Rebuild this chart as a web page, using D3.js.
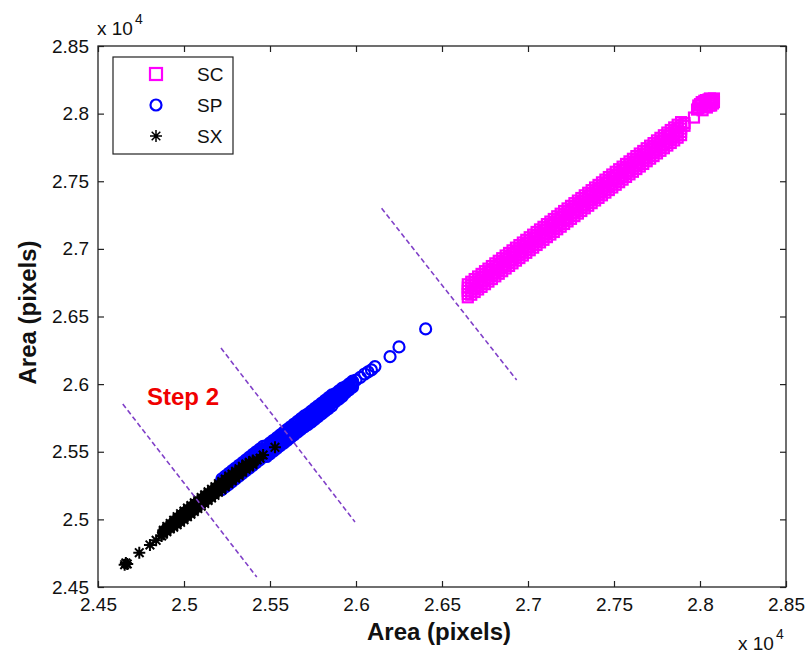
<!DOCTYPE html>
<html><head><meta charset="utf-8">
<script src="https://cdn.jsdelivr.net/npm/d3@7"></script>
<style>
html,body{margin:0;padding:0;background:#fff;}
text{font-family:"Liberation Sans",Arial,sans-serif;}
</style></head>
<body>
<svg id="chart" width="810" height="654"></svg>
<script>
// ---- Data (values in units of 10^4 pixels) ----
const tickValues = [2.45, 2.5, 2.55, 2.6, 2.65, 2.7, 2.75, 2.8, 2.85];
const tickLabels = ["2.45", "2.5", "2.55", "2.6", "2.65", "2.7", "2.75", "2.8", "2.85"];
const seriesNames = ["SC", "SP", "SX"];

// SC: readings across the band [x, y readings...]
const scBand = [
[2.665,2.6642,2.6666,2.6690,2.6714,2.6738],[2.667,2.6661,2.6685,2.6709,2.6733,2.6757],
[2.669,2.6681,2.6705,2.6729,2.6753,2.6777],[2.671,2.6700,2.6724,2.6748,2.6772,2.6796],
[2.673,2.6719,2.6743,2.6767,2.6791,2.6815],[2.675,2.6739,2.6763,2.6787,2.6811,2.6835],
[2.677,2.6758,2.6782,2.6806,2.6830,2.6854],[2.679,2.6777,2.6801,2.6825,2.6849,2.6873],
[2.681,2.6797,2.6821,2.6845,2.6869,2.6893],[2.683,2.6816,2.6840,2.6864,2.6888,2.6912],
[2.685,2.6835,2.6859,2.6883,2.6907,2.6931],[2.687,2.6855,2.6879,2.6903,2.6927,2.6951],
[2.689,2.6874,2.6898,2.6922,2.6946,2.6970],[2.691,2.6893,2.6917,2.6941,2.6965,2.6989],
[2.693,2.6913,2.6937,2.6961,2.6985,2.7009],[2.695,2.6932,2.6956,2.6980,2.7004,2.7028],
[2.697,2.6951,2.6975,2.6999,2.7023,2.7047],[2.699,2.6971,2.6995,2.7019,2.7043,2.7067],
[2.701,2.6990,2.7014,2.7038,2.7062,2.7086],[2.703,2.7009,2.7033,2.7057,2.7081,2.7105],
[2.705,2.7029,2.7053,2.7077,2.7101,2.7125],[2.707,2.7048,2.7072,2.7096,2.7120,2.7144],
[2.709,2.7067,2.7091,2.7115,2.7139,2.7163],[2.711,2.7087,2.7111,2.7135,2.7159,2.7183],
[2.713,2.7106,2.7130,2.7154,2.7178,2.7202],[2.715,2.7125,2.7149,2.7173,2.7197,2.7221],
[2.717,2.7145,2.7169,2.7193,2.7217,2.7241],[2.719,2.7164,2.7188,2.7212,2.7236,2.7260],
[2.721,2.7184,2.7208,2.7232,2.7256,2.7280],[2.723,2.7203,2.7227,2.7251,2.7275,2.7299],
[2.725,2.7222,2.7246,2.7270,2.7294,2.7318],[2.727,2.7242,2.7266,2.7290,2.7314,2.7338],
[2.729,2.7261,2.7285,2.7309,2.7333,2.7357],[2.731,2.7280,2.7304,2.7328,2.7352,2.7376],
[2.733,2.7300,2.7324,2.7348,2.7372,2.7396],[2.735,2.7319,2.7343,2.7367,2.7391,2.7415],
[2.737,2.7338,2.7362,2.7386,2.7410,2.7434],[2.739,2.7358,2.7382,2.7406,2.7430,2.7454],
[2.741,2.7377,2.7401,2.7425,2.7449,2.7473],[2.743,2.7396,2.7420,2.7444,2.7468,2.7492],
[2.745,2.7416,2.7440,2.7464,2.7488,2.7512],[2.747,2.7435,2.7459,2.7483,2.7507,2.7531],
[2.749,2.7454,2.7478,2.7502,2.7526,2.7550],[2.751,2.7474,2.7498,2.7522,2.7546,2.7570],
[2.753,2.7493,2.7517,2.7541,2.7565,2.7589],[2.755,2.7512,2.7536,2.7560,2.7584,2.7608],
[2.757,2.7532,2.7556,2.7580,2.7604,2.7628],[2.759,2.7551,2.7575,2.7599,2.7623,2.7647],
[2.761,2.7570,2.7594,2.7618,2.7642,2.7666],[2.763,2.7590,2.7614,2.7638,2.7662,2.7686],
[2.765,2.7609,2.7633,2.7657,2.7681,2.7705],[2.767,2.7628,2.7652,2.7676,2.7700,2.7724],
[2.769,2.7648,2.7672,2.7696,2.7720,2.7744],[2.771,2.7667,2.7691,2.7715,2.7739,2.7763],
[2.773,2.7686,2.7710,2.7734,2.7758,2.7782],[2.775,2.7706,2.7730,2.7754,2.7778,2.7802],
[2.777,2.7725,2.7749,2.7773,2.7797,2.7821],[2.779,2.7744,2.7768,2.7792,2.7816,2.7840],
[2.781,2.7764,2.7788,2.7812,2.7836,2.7860],[2.783,2.7783,2.7807,2.7831,2.7855,2.7879],
[2.785,2.7802,2.7826,2.7850,2.7874,2.7898],[2.787,2.7822,2.7846,2.7870,2.7894,2.7918],
[2.789,2.7841,2.7865,2.7889,2.7913,2.7937],[2.791,2.7910,2.7930]
];
const scSingles = [
[2.7965,2.7971],[2.7983,2.8030],[2.7990,2.8040],[2.7990,2.8060],[2.8000,2.8070],
[2.8010,2.8085],[2.8025,2.8095],[2.8035,2.8100],[2.8050,2.8105],[2.8058,2.8112],
[2.8070,2.8100],[2.8081,2.8112],[2.8081,2.8085],[2.8075,2.8075],[2.8065,2.8060],
[2.8055,2.8060],[2.8040,2.8045],[2.8030,2.8050],[2.8015,2.8025]
];

// SP
const spBand = [
[2.522,2.5220,2.5240,2.5260,2.5280,2.5300],[2.524,2.5240,2.5260,2.5280,2.5300,2.5320],
[2.526,2.5260,2.5280,2.5300,2.5320,2.5340],[2.528,2.5280,2.5300,2.5320,2.5340,2.5360],
[2.530,2.5300,2.5320,2.5340,2.5360,2.5380],[2.532,2.5320,2.5340,2.5360,2.5380,2.5400],
[2.534,2.5340,2.5360,2.5380,2.5400,2.5420],[2.536,2.5360,2.5380,2.5400,2.5420,2.5440],
[2.538,2.5380,2.5400,2.5420,2.5440,2.5460],[2.540,2.5400,2.5420,2.5440,2.5460,2.5480],
[2.542,2.5420,2.5440,2.5460,2.5480,2.5500],[2.544,2.5440,2.5460,2.5480,2.5500,2.5520],
[2.546,2.5460,2.5480,2.5500,2.5520,2.5540],[2.548,2.5465,2.5485,2.5505,2.5525,2.5545],
[2.550,2.5485,2.5505,2.5525,2.5545,2.5565],[2.552,2.5505,2.5525,2.5545,2.5565,2.5585],
[2.554,2.5525,2.5545,2.5565,2.5585,2.5605],[2.556,2.5545,2.5565,2.5585,2.5605,2.5625],
[2.558,2.5565,2.5585,2.5605,2.5625,2.5645],[2.560,2.5585,2.5605,2.5625,2.5645,2.5665],
[2.562,2.5605,2.5625,2.5645,2.5665,2.5685],[2.564,2.5625,2.5645,2.5665,2.5685,2.5705],
[2.566,2.5645,2.5665,2.5685,2.5705,2.5725],[2.568,2.5665,2.5685,2.5705,2.5725,2.5745],
[2.570,2.5685,2.5705,2.5725,2.5745,2.5765],[2.572,2.5700,2.5720,2.5740,2.5760,2.5780],
[2.574,2.5720,2.5740,2.5760,2.5780,2.5800],[2.576,2.5740,2.5760,2.5780,2.5800,2.5820],
[2.578,2.5760,2.5780,2.5800,2.5820,2.5840],[2.580,2.5780,2.5800,2.5820,2.5840,2.5860],
[2.582,2.5800,2.5820,2.5840,2.5860,2.5880],[2.584,2.5820,2.5840,2.5860,2.5880,2.5900],
[2.586,2.5840,2.5860,2.5880,2.5900,2.5920],[2.588,2.5870,2.5885,2.5900,2.5915,2.5930],
[2.590,2.5890,2.5905,2.5920,2.5935,2.5950],[2.592,2.5910,2.5925,2.5940,2.5955,2.5970],
[2.594,2.5938,2.5949,2.5960,2.5971,2.5982],[2.596,2.5958,2.5969,2.5980,2.5991,2.6002],
[2.598,2.5978,2.5989,2.6000,2.6011,2.6022]
];
const spSingles = [
[2.6000,2.6030],[2.6025,2.6050],[2.6050,2.6075],[2.6070,2.6090],[2.6090,2.6105],
[2.6110,2.6130],[2.6198,2.6203],[2.6250,2.6275],[2.6405,2.6408]
];

// SX
const sxBand = [
[2.488,2.4890,2.4898,2.4905,2.4912,2.4920],[2.490,2.4908,2.4918,2.4928,2.4938,2.4948],
[2.492,2.4930,2.4940,2.4950,2.4960,2.4970],[2.494,2.4942,2.4955,2.4968,2.4981,2.4994],
[2.496,2.4960,2.4975,2.4990,2.5005,2.5020],[2.498,2.4978,2.4994,2.5010,2.5026,2.5042],
[2.500,2.4998,2.5014,2.5030,2.5046,2.5062],[2.502,2.5020,2.5036,2.5052,2.5068,2.5084],
[2.504,2.5038,2.5054,2.5070,2.5086,2.5102],[2.506,2.5058,2.5074,2.5090,2.5106,2.5122],
[2.508,2.5080,2.5096,2.5112,2.5128,2.5144],[2.510,2.5098,2.5114,2.5130,2.5146,2.5162],
[2.512,2.5118,2.5134,2.5150,2.5166,2.5182],[2.514,2.5140,2.5156,2.5172,2.5188,2.5204],
[2.516,2.5158,2.5174,2.5190,2.5206,2.5222],[2.518,2.5178,2.5194,2.5210,2.5226,2.5242],
[2.520,2.5200,2.5216,2.5232,2.5248,2.5264],[2.522,2.5220,2.5235,2.5250,2.5265,2.5280],
[2.524,2.5242,2.5256,2.5270,2.5284,2.5298],[2.526,2.5264,2.5278,2.5292,2.5306,2.5320],
[2.528,2.5285,2.5298,2.5310,2.5322,2.5335],[2.530,2.5305,2.5318,2.5330,2.5342,2.5355],
[2.532,2.5325,2.5338,2.5350,2.5362,2.5375],[2.534,2.5348,2.5359,2.5370,2.5381,2.5392],
[2.536,2.5370,2.5380,2.5390,2.5400,2.5410],[2.538,2.5388,2.5396,2.5405,2.5414,2.5422],
[2.540,2.5405,2.5412,2.5420,2.5428,2.5435]
];
const sxSingles = [
[2.4655,2.4665],[2.4662,2.4678],[2.4670,2.4670],[2.4740,2.4754],[2.4802,2.4811],
[2.4838,2.4845],[2.4870,2.4877],[2.5425,2.5440],[2.5442,2.5452],[2.5460,2.5476],[2.5529,2.5533]
];

// Dashed divider lines [x1, y1, x2, y2]
const dividers = [
[2.4644, 2.5853, 2.5423, 2.4574],
[2.5215, 2.6267, 2.5994, 2.4981],
[2.6149, 2.7300, 2.6934, 2.6030]
];
const annotation = {text: "Step 2", x: 2.4785, y: 2.5845};

// ---- Layout ----
const L = 98, R = 786, T = 46, B = 587;
const svg = d3.select("#chart");
svg.append("rect").attr("width", 810).attr("height", 654).attr("fill", "#fff");

const x = d3.scaleLinear().domain([2.45, 2.85]).range([L, R]);
const y = d3.scaleLinear().domain([2.45, 2.85]).range([B, T]);

const flat = band => band.flatMap(r => r.slice(1).map(v => [r[0], v]));
const scPts = flat(scBand).concat(scSingles);
const spPts = flat(spBand).concat(spSingles);
const sxPts = flat(sxBand).concat(sxSingles);

const fmt = d => tickLabels[tickValues.indexOf(d)];
const fs = 19;

// axes
const gx = svg.append("g").attr("transform", `translate(0,${B})`)
  .call(d3.axisBottom(x).tickValues(tickValues).tickFormat(fmt).tickSizeInner(-6).tickSizeOuter(0).tickPadding(10.5));
const gy = svg.append("g").attr("transform", `translate(${L},0)`)
  .call(d3.axisLeft(y).tickValues(tickValues).tickFormat(fmt).tickSizeInner(-6).tickSizeOuter(0).tickPadding(9));
const gt = svg.append("g").attr("transform", `translate(0,${T})`)
  .call(d3.axisTop(x).tickValues(tickValues).tickFormat("").tickSizeInner(-6).tickSizeOuter(0));
const gr = svg.append("g").attr("transform", `translate(${R},0)`)
  .call(d3.axisRight(y).tickValues(tickValues).tickFormat("").tickSizeInner(-6).tickSizeOuter(0));
[gx, gy, gt, gr].forEach(g => {
  g.select(".domain").remove();
  g.selectAll("line").attr("stroke", "#222").attr("stroke-width", 1.2);
  g.selectAll("text").attr("font-size", fs).attr("fill", "#111")
    .style("font-family", '"Liberation Sans",Arial,sans-serif');
});

// data
const pts = svg.append("g");
pts.selectAll("rect.sc").data(scPts).join("rect").attr("class", "sc")
  .attr("x", d => x(d[0]) - 5).attr("y", d => y(d[1]) - 5)
  .attr("width", 10).attr("height", 10)
  .attr("fill", "none").attr("stroke", "#ff00ff").attr("stroke-width", 2.2);
pts.selectAll("circle.sp").data(spPts).join("circle").attr("class", "sp")
  .attr("cx", d => x(d[0])).attr("cy", d => y(d[1])).attr("r", 5.5)
  .attr("fill", "none").attr("stroke", "#0000ff").attr("stroke-width", 2.2);
const starPath = "M-6,0H6M0,-6V6M-4.3,-4.3L4.3,4.3M-4.3,4.3L4.3,-4.3";
pts.selectAll("path.sx").data(sxPts).join("path").attr("class", "sx")
  .attr("d", starPath).attr("transform", d => `translate(${x(d[0])},${y(d[1])})`)
  .attr("fill", "none").attr("stroke", "#000").attr("stroke-width", 2);

// dividers
svg.append("g").selectAll("line").data(dividers).join("line")
  .attr("x1", d => x(d[0])).attr("y1", d => y(d[1]))
  .attr("x2", d => x(d[2])).attr("y2", d => y(d[3]))
  .attr("stroke", "#8040c8").attr("stroke-width", 1.6).attr("stroke-dasharray", "5,3");

// frame
svg.append("rect").attr("x", L).attr("y", T).attr("width", R - L).attr("height", B - T)
  .attr("fill", "none").attr("stroke", "#222").attr("stroke-width", 1.3);

// annotation
svg.append("text").attr("x", x(annotation.x)).attr("y", y(annotation.y))
  .attr("font-size", 24).attr("font-weight", "bold").attr("fill", "#f00000").text(annotation.text);

// axis labels
svg.append("text").attr("x", (L + R) / 2 - 3).attr("y", 640).attr("text-anchor", "middle")
  .attr("font-size", 24).attr("font-weight", "bold").attr("fill", "#111").text("Area (pixels)");
svg.append("text").attr("transform", `translate(36,${(T + B) / 2 - 4}) rotate(-90)`).attr("text-anchor", "middle")
  .attr("font-size", 24).attr("font-weight", "bold").attr("fill", "#111").text("Area (pixels)");

// exponent labels
function expo(xp, yb) {
  const t = svg.append("text").attr("x", xp).attr("y", yb).attr("font-size", fs).attr("fill", "#111");
  t.append("tspan").text("x 10");
  t.append("tspan").attr("dy", -11).attr("dx", 2).attr("font-size", 14).text("4");
}
expo(97, 35);
expo(738, 650);

// legend
const lg = svg.append("g");
lg.append("rect").attr("x", 113).attr("y", 57).attr("width", 120).attr("height", 97)
  .attr("fill", "#fff").attr("stroke", "#222").attr("stroke-width", 1.2);
const rowsY = [74, 105, 136];
seriesNames.forEach((n, i) => {
  const cy = rowsY[i];
  if (i === 0) lg.append("rect").attr("x", 156 - 6).attr("y", cy - 6).attr("width", 12).attr("height", 12)
    .attr("fill", "none").attr("stroke", "#ff00ff").attr("stroke-width", 2.2);
  if (i === 1) lg.append("circle").attr("cx", 156).attr("cy", cy).attr("r", 5.5)
    .attr("fill", "none").attr("stroke", "#0000ff").attr("stroke-width", 2.2);
  if (i === 2) lg.append("path").attr("d", starPath).attr("transform", `translate(156,${cy})`)
    .attr("fill", "none").attr("stroke", "#000").attr("stroke-width", 1.5);
  lg.append("text").attr("x", 197).attr("y", cy + 7).attr("font-size", fs).attr("fill", "#111").text(n);
});
</script>
</body></html>
